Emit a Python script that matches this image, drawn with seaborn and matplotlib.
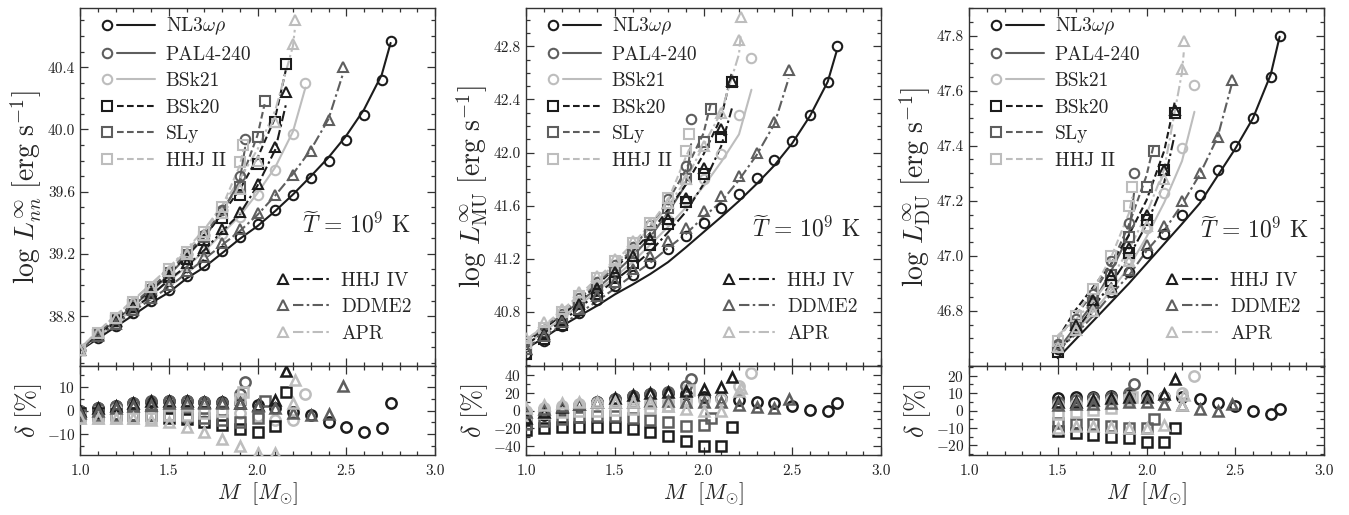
import numpy as np
import matplotlib
matplotlib.use("Agg")
import matplotlib.pyplot as plt
import seaborn as sns
from matplotlib.lines import Line2D
from matplotlib.legend_handler import HandlerBase
from matplotlib.ticker import MultipleLocator, FixedLocator, FormatStrFormatter

# ---------------- data ----------------
eos_names = ["NL3$\\omega\\rho$", "PAL4-240", "BSk21", "BSk20", "SLy", "HHJ II", "HHJ IV", "DDME2", "APR"]

M_NL3 = [1.0, 1.1, 1.2, 1.3, 1.4, 1.5, 1.6, 1.7, 1.8, 1.9, 2.0, 2.1, 2.2, 2.3, 2.4, 2.5, 2.6, 2.7, 2.75]
M_PAL = [1.0, 1.1, 1.2, 1.3, 1.4, 1.5, 1.6, 1.7, 1.8, 1.9, 1.93]
M_BSK21 = [1.0, 1.1, 1.2, 1.3, 1.4, 1.5, 1.6, 1.7, 1.8, 1.9, 2.0, 2.1, 2.2, 2.27]
M_BSK20 = [1.0, 1.1, 1.2, 1.3, 1.4, 1.5, 1.6, 1.7, 1.8, 1.9, 2.0, 2.1, 2.16]
M_SLY = [1.0, 1.1, 1.2, 1.3, 1.4, 1.5, 1.6, 1.7, 1.8, 1.9, 2.0, 2.04]
M_HHJ2 = [1.0, 1.1, 1.2, 1.3, 1.4, 1.5, 1.6, 1.7, 1.8, 1.9, 1.92]
M_HHJ4 = [1.0, 1.1, 1.2, 1.3, 1.4, 1.5, 1.6, 1.7, 1.8, 1.9, 2.0, 2.1, 2.16]
M_DDME2 = [1.0, 1.1, 1.2, 1.3, 1.4, 1.5, 1.6, 1.7, 1.8, 1.9, 2.0, 2.1, 2.2, 2.3, 2.4, 2.48]
M_APR = [1.0, 1.1, 1.2, 1.3, 1.4, 1.5, 1.6, 1.7, 1.8, 1.9, 2.0, 2.1, 2.2, 2.21]

# log L_nn -- panel 1
NN_NL3 = [38.58, 38.66, 38.74, 38.82, 38.90, 38.97, 39.06, 39.13, 39.22, 39.31, 39.39, 39.48, 39.58, 39.69, 39.80, 39.93, 40.09, 40.32, 40.57]
NN_PAL = [38.58, 38.68, 38.78, 38.88, 38.98, 39.08, 39.20, 39.32, 39.48, 39.70, 39.94]
NN_BSK21 = [38.58, 38.67, 38.76, 38.85, 38.94, 39.03, 39.12, 39.22, 39.33, 39.44, 39.58, 39.74, 39.97, 40.30]
NN_BSK20 = [38.58, 38.68, 38.77, 38.87, 38.96, 39.06, 39.17, 39.29, 39.43, 39.58, 39.78, 40.05, 40.42]
NN_SLY = [38.58, 38.68, 38.78, 38.87, 38.97, 39.08, 39.19, 39.31, 39.46, 39.63, 39.95, 40.18]
NN_HHJ2 = [38.58, 38.69, 38.79, 38.89, 38.99, 39.10, 39.21, 39.34, 39.50, 39.79, 39.90]
NN_HHJ4 = [38.58, 38.68, 38.77, 38.86, 38.95, 39.05, 39.14, 39.24, 39.36, 39.47, 39.65, 39.89, 40.24]
NN_DDME2 = [38.58, 38.67, 38.75, 38.84, 38.92, 39.00, 39.09, 39.18, 39.27, 39.36, 39.46, 39.58, 39.71, 39.86, 40.06, 40.40]
NN_APR = [38.58, 38.69, 38.79, 38.89, 38.99, 39.09, 39.20, 39.32, 39.46, 39.62, 39.80, 40.05, 40.55, 40.70]

dNN_NL3 = [0, 1, 2, 3, 3.5, 4, 4, 3.5, 3.5, 3, 2.5, 1, -0.5, -2, -4.7, -7, -9, -7.5, 3.3]
dNN_PAL = [0, 1, 2, 3, 4, 4, 4, 3.5, 3, 7, 12.3]
dNN_BSK21 = [-1, 0, 0.5, 1, 1, 1, 1, 0.5, 0, -1, -2.5, -4, -4, 7]
dNN_BSK20 = [-1, -1, -1.5, -2, -2, -3, -3.5, -5, -6, -8, -9, -6.5, 8]
dNN_SLY = [-2, -2, -2, -2, -2, -2, -2.5, -3, -4, -5, -3, 4]
dNN_HHJ2 = [-3, -3, -3, -3, -3, -2, -2, -1, 0, 5, 8]
dNN_HHJ4 = [0, 1, 2, 3, 4, 4, 4, 3.5, 3.5, 3, 2.5, 4.5, 17]
dNN_DDME2 = [-1, 0, 1, 2, 2.5, 3, 3, 3, 3, 3, 2, 1, -1, -2, -1.5, 10.5]
dNN_APR = [-3, -3, -3, -3, -4, -5, -7, -9, -12, -15, -18, -18, 3, 13]

# log L_MU -- panel 2
MU_NL3 = [40.48, 40.58, 40.69, 40.79, 40.89, 40.99, 41.08, 41.17, 41.27, 41.37, 41.47, 41.58, 41.69, 41.81, 41.94, 42.09, 42.28, 42.53, 42.80]
MU_PAL = [40.55, 40.66, 40.78, 40.90, 41.02, 41.15, 41.29, 41.45, 41.65, 41.90, 42.25]
MU_BSK21 = [40.55, 40.66, 40.77, 40.88, 40.99, 41.10, 41.22, 41.35, 41.49, 41.64, 41.80, 41.99, 42.28, 42.71]
MU_BSK20 = [40.48, 40.59, 40.70, 40.81, 40.93, 41.05, 41.17, 41.30, 41.46, 41.63, 41.84, 42.12, 42.53]
MU_SLY = [40.52, 40.63, 40.75, 40.87, 40.99, 41.11, 41.24, 41.40, 41.58, 41.80, 42.08, 42.33]
MU_HHJ2 = [40.56, 40.68, 40.80, 40.92, 41.05, 41.18, 41.32, 41.47, 41.66, 42.01, 42.14]
MU_HHJ4 = [40.52, 40.63, 40.74, 40.86, 40.98, 41.10, 41.22, 41.35, 41.50, 41.66, 41.88, 42.18, 42.54]
MU_DDME2 = [40.52, 40.62, 40.72, 40.82, 40.92, 41.02, 41.12, 41.22, 41.33, 41.43, 41.56, 41.67, 41.82, 42.00, 42.23, 42.62]
MU_APR = [40.60, 40.72, 40.82, 40.95, 41.07, 41.20, 41.33, 41.47, 41.62, 41.80, 42.05, 42.30, 42.85, 43.02]

dMU_NL3 = [-10, -5, 0, 5, 10, 13, 16, 18, 20, 18, 15, 14, 12, 10, 8, 4.5, 1, -1, 8]
dMU_PAL = [-8, -3, 2, 6, 10, 13, 16, 18, 21, 28, 35]
dMU_BSK21 = [0, 3, 5, 7, 8, 9, 10, 10, 11, 12, 12, 13, 28, 42]
dMU_BSK20 = [-22, -20, -19, -18, -18, -19, -21, -24, -29, -34, -40, -40, -19]
dMU_SLY = [-15, -12, -9, -7, -6, -6, -8, -11, -13, -17, -16, -8]
dMU_HHJ2 = [-5, -3, -2, -1, 0, 1, 2, 3, 5, 10, 23]
dMU_HHJ4 = [-8, -2, 4, 7, 10, 14, 17, 20, 21, 22, 24, 26, 38]
dMU_DDME2 = [-2, 2, 5, 7, 9, 10, 10, 11, 11, 10, 10, 9, 6, 4, 3, 13]
dMU_APR = [3, 6, 8, 9, 9, 9, 9, 8, 5, 2, -1, -1, 22, 25]

# log L_DU -- panel 3 (masses from 1.5 Msun onward)
DU_NL3 = [46.66, 46.73, 46.80, 46.87, 46.94, 47.01, 47.08, 47.15, 47.22, 47.31, 47.40, 47.50, 47.65, 47.80]
DU_PAL = [46.68, 46.77, 46.86, 46.98, 47.12, 47.30]
DU_BSK21 = [46.67, 46.74, 46.82, 46.90, 46.99, 47.10, 47.23, 47.39, 47.62]
DU_BSK20 = [46.65, 46.75, 46.83, 46.91, 47.01, 47.13, 47.31, 47.52]
DU_SLY = [46.67, 46.75, 46.83, 46.93, 47.07, 47.25, 47.38]
DU_HHJ2 = [46.69, 46.78, 46.88, 47.00, 47.18, 47.25]
DU_HHJ4 = [46.67, 46.75, 46.84, 46.93, 47.03, 47.15, 47.31, 47.53]
DU_DDME2 = [46.67, 46.73, 46.80, 46.88, 46.95, 47.04, 47.11, 47.20, 47.30, 47.43, 47.64]
DU_APR = [46.67, 46.73, 46.80, 46.88, 46.98, 47.11, 47.28, 47.68, 47.78]

dDU_NL3 = [7, 7.5, 8, 8.5, 9, 8.5, 8, 7.5, 6.5, 4.5, 2.5, 0, -2, 1]
dDU_PAL = [5, 6, 7, 8, 10, 15]
dDU_BSK21 = [3, 4, 5, 6, 7, 7, 8, 10, 20]
dDU_BSK20 = [-12, -13, -14, -15, -16, -18, -18, -10]
dDU_SLY = [-7, -8, -8, -9, -10, -10, -5]
dDU_HHJ2 = [-2, -1, 0.5, 1.5, 6, 8]
dDU_HHJ4 = [5, 5, 6, 7, 7.5, 8, 9.5, 18]
dDU_DDME2 = [3, 3.5, 4, 4.5, 5, 5, 4, 3, 1, 0, 4]
dDU_APR = [-10, -9, -9, -9.5, -10, -10, -8.5, 3, 9]

MASSES = [M_NL3, M_PAL, M_BSK21, M_BSK20, M_SLY, M_HHJ2, M_HHJ4, M_DDME2, M_APR]
NN = [NN_NL3, NN_PAL, NN_BSK21, NN_BSK20, NN_SLY, NN_HHJ2, NN_HHJ4, NN_DDME2, NN_APR]
MU = [MU_NL3, MU_PAL, MU_BSK21, MU_BSK20, MU_SLY, MU_HHJ2, MU_HHJ4, MU_DDME2, MU_APR]
DU = [DU_NL3, DU_PAL, DU_BSK21, DU_BSK20, DU_SLY, DU_HHJ2, DU_HHJ4, DU_DDME2, DU_APR]
dNN = [dNN_NL3, dNN_PAL, dNN_BSK21, dNN_BSK20, dNN_SLY, dNN_HHJ2, dNN_HHJ4, dNN_DDME2, dNN_APR]
dMU = [dMU_NL3, dMU_PAL, dMU_BSK21, dMU_BSK20, dMU_SLY, dMU_HHJ2, dMU_HHJ4, dMU_DDME2, dMU_APR]
dDU = [dDU_NL3, dDU_PAL, dDU_BSK21, dDU_BSK20, dDU_SLY, dDU_HHJ2, dDU_HHJ4, dDU_DDME2, dDU_APR]

# ---------------- styles ----------------
BLACK, DARK, LIGHT = "#1c1c1c", "#5e5e5e", "#bdbdbd"
COLORS = [BLACK, DARK, LIGHT, BLACK, DARK, LIGHT, BLACK, DARK, LIGHT]
MARKERS = ["o", "o", "o", "s", "s", "s", "^", "^", "^"]
SOLID = "-"
DASH = (0, (3.2, 1.6))
DASHDOT = (0, (5.0, 1.6, 1.2, 1.6))
STYLES = [SOLID, SOLID, SOLID, DASH, DASH, DASH, DASHDOT, DASHDOT, DASHDOT]
MS, MEW, LW = 6.8, 1.5, 1.5

sns.set_theme(style="ticks")
plt.rcParams.update({
    "font.family": ["cmr10", "DejaVu Serif"],
    "mathtext.fontset": "cm",
    "axes.formatter.use_mathtext": True,
    "axes.unicode_minus": False,
    "axes.edgecolor": "#333333",
    "axes.linewidth": 1.0,
    "xtick.direction": "in",
    "ytick.direction": "in",
    "xtick.color": "#333333",
    "ytick.color": "#333333",
    "xtick.labelcolor": "#222222",
    "ytick.labelcolor": "#222222",
})


class Key:
    def __init__(self, color, marker, ls):
        self.color, self.marker, self.ls = color, marker, ls


class KeyHandler(HandlerBase):
    def create_artists(self, legend, key, xdescent, ydescent, width, height, fontsize, trans):
        y = height / 2 - ydescent
        x0 = -xdescent
        m = Line2D([x0 + 0.1 * width], [y], marker=key.marker, ms=MS, mfc="none",
                   mec=key.color, mew=MEW, ls="none", transform=trans)
        ln = Line2D([x0 + 0.29 * width, x0 + width], [y, y], color=key.color, lw=LW,
                    linestyle=key.ls, transform=trans)
        return [ln, m]


fig = plt.figure(figsize=(13.49, 5.15), dpi=100)
W, H = 1349.0, 515.0
lefts = [80, 526, 969]
width = 355
top_px, mid_px, bot_px = 8, 366, 455

panels = [
    (NN, dNN, r"$\log\,L^{\infty}_{nn}\ [\mathrm{erg\ s}^{-1}]$", (38.48, 40.78),
     [38.8, 39.2, 39.6, 40.0, 40.4], 0.1, (-19, 19), [-10, 0, 10], 5, 0, 0.78, 0.395),
    (MU, dMU, r"$\log\,L^{\infty}_{\mathrm{MU}}\ [\mathrm{erg\ s}^{-1}]$", (40.39, 43.09),
     [40.8, 41.2, 41.6, 42.0, 42.4, 42.8], 0.1, (-50, 50), [-40, -20, 0, 20, 40], 10, 0, 0.79, 0.385),
    (DU, dDU, r"$\log\,L^{\infty}_{\mathrm{DU}}\ [\mathrm{erg\ s}^{-1}]$", (46.60, 47.90),
     [46.8, 47.0, 47.2, 47.4, 47.6, 47.8], 0.05, (-25.5, 25.5), [-20, -10, 0, 10, 20], 5, 5, 0.805, 0.38),
]

for p, (vals, dels, ylab, ylim, yticks, ymin, dlim, dticks, dmin, start, tx, ty) in enumerate(panels):
    L = lefts[p] / W
    ax = fig.add_axes([L, 1 - mid_px / H, width / W, (mid_px - top_px) / H])
    axr = fig.add_axes([L, 1 - bot_px / H, width / W, (bot_px - mid_px) / H], sharex=ax)

    for i in range(9):
        m = np.array(MASSES[i][start:])
        v = np.array(vals[i])
        d = np.array(dels[i])
        fit = v + np.log10(1 - d / 100.0)
        sns.lineplot(x=m, y=fit, ax=ax, color=COLORS[i], linestyle=STYLES[i], lw=LW,
                     estimator=None, sort=False, zorder=2)
        sns.lineplot(x=m, y=v, ax=ax, color=COLORS[i], marker=MARKERS[i], linestyle="none",
                     mfc="none", mec=COLORS[i], mew=MEW, ms=MS, estimator=None, sort=False,
                     zorder=3)
        sns.lineplot(x=m, y=d, ax=axr, color=COLORS[i], marker=MARKERS[i], linestyle="none",
                     mfc="none", mec=COLORS[i], mew=MEW + 0.3, ms=MS + 0.6, estimator=None,
                     sort=False, zorder=3)

    ax.set_xlim(1.0, 3.0)
    ax.set_ylim(*ylim)
    ax.yaxis.set_major_locator(FixedLocator(yticks))
    ax.yaxis.set_minor_locator(MultipleLocator(ymin))
    ax.xaxis.set_major_locator(MultipleLocator(0.5))
    ax.xaxis.set_minor_locator(MultipleLocator(0.1))
    ax.yaxis.set_major_formatter(FormatStrFormatter("%.1f"))
    ax.tick_params(axis="x", labelbottom=False)
    ax.set_ylabel(ylab, fontsize=20, labelpad=3)
    ax.set_xlabel("")

    axr.set_ylim(*dlim)
    axr.yaxis.set_major_locator(FixedLocator(dticks))
    axr.yaxis.set_minor_locator(MultipleLocator(dmin))
    axr.xaxis.set_major_formatter(FormatStrFormatter("%.1f"))
    axr.set_ylabel(r"$\delta\ [\%]$", fontsize=19, labelpad=2)
    axr.set_xlabel(r"$M\ \ [M_{\odot}]$", fontsize=16, labelpad=1)

    for a in (ax, axr):
        a.tick_params(which="both", direction="in", top=True, right=True, labelsize=11,
                      width=0.9)
        a.tick_params(which="major", length=6)
        a.tick_params(which="minor", length=3)
        for s in a.spines.values():
            s.set_linewidth(1.0)
    axr.tick_params(axis="x", pad=7)

    ax.text(tx, ty, r"$\widetilde{T}\, =\, 10^{9}$ K", transform=ax.transAxes,
            ha="center", va="center", fontsize=17)

    keys1 = [Key(COLORS[i], MARKERS[i], STYLES[i]) for i in range(6)]
    leg1 = ax.legend(keys1, eos_names[:6], handler_map={Key: KeyHandler()}, loc="upper left",
                     bbox_to_anchor=(0.04, 1.0), frameon=False, fontsize=14,
                     handlelength=2.75, handletextpad=0.53, labelspacing=0.44,
                     borderaxespad=0.1, borderpad=0.3)
    ax.add_artist(leg1)
    keys2 = [Key(COLORS[i], MARKERS[i], STYLES[i]) for i in range(6, 9)]
    ax.legend(keys2, eos_names[6:], handler_map={Key: KeyHandler()}, loc="lower right",
              bbox_to_anchor=(1.0, 0.0), frameon=False, fontsize=14,
              handlelength=2.75, handletextpad=0.53, labelspacing=0.44,
              borderaxespad=0.9, borderpad=0.3)

fig.savefig("out.png", dpi=100)
